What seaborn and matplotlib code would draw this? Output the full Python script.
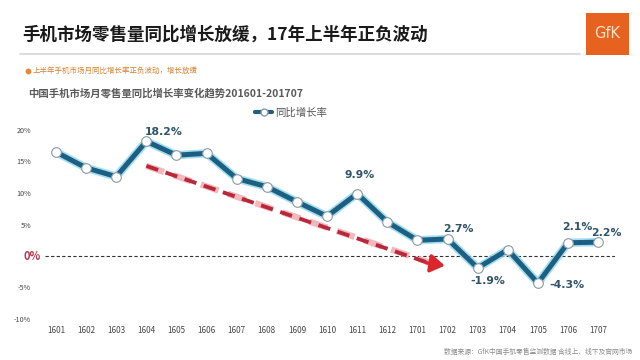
import matplotlib
matplotlib.use("Agg")
import matplotlib.pyplot as plt
import seaborn as sns
import pandas as pd
import numpy as np
from matplotlib.lines import Line2D
from matplotlib.patches import Rectangle

months = ["1601", "1602", "1603", "1604", "1605", "1606", "1607", "1608", "1609",
          "1610", "1611", "1612", "1701", "1702", "1703", "1704", "1705", "1706", "1707"]
growth = [16.5, 14.0, 12.6, 18.2, 16.0, 16.3, 12.3, 11.0, 8.6,
          6.3, 9.9, 5.4, 2.5, 2.7, -1.9, 1.0, -4.3, 2.1, 2.2]
label_months = ["1604", "1611", "1702", "1703", "1705", "1706", "1707"]
ytick_vals = [20, 15, 10, 5, -5, -10]

sns.set_theme(style="white")
plt.rcParams["font.family"] = ["Noto Sans CJK SC", "DejaVu Sans"]

df = pd.DataFrame({"month": months, "growth": growth})
df["idx"] = range(len(df))

fig = plt.figure(figsize=(6.4, 3.6), dpi=100)
fig.patch.set_facecolor("white")
ax = fig.add_axes([45 / 640, 41 / 360, 570 / 640, 189 / 360])

line_col = "#1d5f80"
glow_col = "#8ad6f2"

sns.lineplot(data=df, x="idx", y="growth", ax=ax, color=glow_col, lw=6.0,
             solid_capstyle="round", alpha=0.8, legend=False)
sns.lineplot(data=df, x="idx", y="growth", ax=ax, color=line_col, lw=3.6,
             solid_joinstyle="round", legend=False)
sns.scatterplot(data=df, x="idx", y="growth", ax=ax, s=48, color="white",
                edgecolor="#8a9aa4", linewidth=0.8, zorder=5, legend=False)

ax.axhline(0, color="#333333", lw=0.8, ls=(0, (3, 2)), zorder=1)

# trend arrow
ax.plot([3.0, 12.5], [14.3, -1.2], color="#f2b8bb", lw=4.5, ls=(0, (3, 1.6)),
        zorder=2)
ax.plot([3.0, 12.4], [14.3, -1.15], color="#b8283a", lw=2.8, ls=(0, (3.2, 2)), zorder=3)
ax.annotate("", xy=(13.0, -1.6), xytext=(12.2, -1.0),
            arrowprops=dict(arrowstyle="-|>,head_length=0.7,head_width=0.45",
                            color="#dc262e", lw=2.5), zorder=4)

lab_col = "#2f5466"
offsets = {"1604": (-1, 7, "left"),
           "1611": (2, 13.5, "center"),
           "1702": (8, 7, "center"),
           "1703": (7, -9.5, "center"),
           "1705": (8, -1.5, "left"),
           "1706": (6.5, 11, "center"),
           "1707": (6, 6.5, "center")}
for m in label_months:
    i = months.index(m)
    v = growth[i]
    dx, dy, ha = offsets[m]
    ax.annotate(f"{v:.1f}%", xy=(i, v), xytext=(dx, dy), textcoords="offset points",
                ha=ha, va="center", fontsize=7.8, fontweight="bold", color=lab_col,
                family=["DejaVu Sans"], zorder=6)

ax.set_xlim(-0.365, 18.56)
ax.set_ylim(-10, 20)
ax.set_xticks(range(len(months)))
ax.set_xticklabels(months, fontsize=5.8, color="#444444")
ax.set_yticks(ytick_vals)
ax.set_yticklabels([f"{v}%" for v in ytick_vals], fontsize=5.2, color="#444444")
ax.tick_params(axis="x", length=0, pad=5)
ax.tick_params(axis="y", length=0, pad=10)
for s in ax.spines.values():
    s.set_visible(False)
ax.set_xlabel("")
ax.set_ylabel("")
ax.text(-0.52, 0, "0%", transform=ax.transData, ha="right", va="center",
        fontsize=8, fontweight="bold", color="#b5384a")

# legend
h = Line2D([0], [0], color=line_col, lw=3, marker="o", markersize=5,
           markerfacecolor="white", markeredgecolor="#8a9aa4")
fig.legend([h], ["同比增长率"], loc="center", bbox_to_anchor=(0.455, 0.688),
           frameon=False, fontsize=7.5, handlelength=1.6, handletextpad=0.3,
           labelcolor="#555555")

# headings
fig.text(22 / 640, 1 - 35 / 360, "手机市场零售量同比增长放缓，17年上半年正负波动",
         fontsize=12.6, fontweight="bold", color="#1a1a1a", va="center", ha="left")
fig.add_artist(Line2D([20 / 640, 580 / 640], [1 - 54 / 360, 1 - 54 / 360],
                      color="#d5d5d5", lw=1.2))
fig.add_artist(Line2D([28 / 640], [1 - 71 / 360], marker="o", markersize=3.2,
                      color="#e08a3a", lw=0))
fig.text(33 / 640, 1 - 71 / 360, "上半年手机市场月同比增长率正负波动，增长放缓",
         fontsize=5.4, color="#d6802e", va="center", ha="left")
fig.text(28 / 640, 1 - 93 / 360, "中国手机市场月零售量同比增长率变化趋势201601-201707",
         fontsize=7.5, fontweight="bold", color="#5a5a5a", va="center", ha="left")

# logo
fig.add_artist(Rectangle((586 / 640, 1 - 55 / 360), 43 / 640, 42 / 360,
                         transform=fig.transFigure, facecolor="#e8621f",
                         edgecolor="none"))
fig.text(607 / 640, 1 - 34 / 360, "GfK", fontsize=10.5, color="#fbe3c8",
         ha="center", va="center", family=["DejaVu Sans"])

fig.text(632 / 640, 1 - 352 / 360, "数据来源：GfK中国手机零售监测数据 含线上、线下及官网市场",
         fontsize=4.9, color="#8a8a8a", ha="right", va="center")

fig.savefig("out.png", dpi=100, facecolor="white")
